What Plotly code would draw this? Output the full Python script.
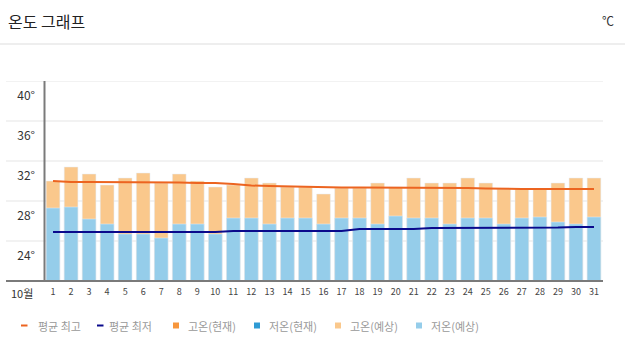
import plotly.graph_objects as go

days = list(range(1, 32))
high_fc = [30.0, 31.4, 30.7, 29.6, 30.3, 30.8, 29.8, 30.7, 30.0, 29.4, 29.6, 30.3, 29.8, 29.4, 29.4, 28.7,
           29.3, 29.3, 29.8, 29.4, 30.3, 29.8, 29.8, 30.3, 29.8, 29.2, 29.2, 29.2, 29.8, 30.3, 30.3]
low_fc = [27.3, 27.4, 26.2, 25.7, 24.7, 24.7, 24.3, 25.7, 25.7, 24.7, 26.3, 26.3, 25.7, 26.3, 26.3, 25.7,
          26.3, 26.3, 25.7, 26.5, 26.3, 26.3, 25.7, 26.3, 26.3, 25.7, 26.3, 26.4, 25.9, 25.7, 26.4]
avg_high = [30.0, 29.9, 29.9, 29.9, 29.9, 29.9, 29.9, 29.85, 29.8, 29.8, 29.7, 29.55, 29.5, 29.45, 29.4, 29.35,
            29.35, 29.35, 29.35, 29.3, 29.3, 29.3, 29.3, 29.3, 29.25, 29.2, 29.2, 29.2, 29.2, 29.2, 29.2]
avg_low = [24.9, 24.9, 24.9, 24.9, 24.9, 24.9, 24.9, 24.9, 24.9, 24.9, 25.0, 25.0, 25.0, 25.0, 25.0, 25.0,
           25.0, 25.2, 25.2, 25.2, 25.2, 25.3, 25.3, 25.3, 25.3, 25.3, 25.3, 25.3, 25.35, 25.4, 25.4]
y_ticks = [24, 28, 32, 36, 40]
y_labels = ["24°", "28°", "32°", "36°", "40°"]
legend_names = ["평균 최고", "평균 최저", "고온(현재)", "저온(현재)", "고온(예상)", "저온(예상)"]

C_AVG_HIGH = "#ec6420"
C_AVG_LOW = "#0a0a8c"
C_HIGH_NOW = "#f7963c"
C_LOW_NOW = "#2f9bd4"
C_HIGH_FC = "#fac88c"
C_LOW_FC = "#95cdea"

FONT = "Noto Sans CJK KR"
W, H = 625, 353
ML, MR, MT, MB = 44, 22, 81, 72
PW = W - ML - MR
PH = H - MT - MB

fig = go.Figure()
fig.add_trace(go.Bar(x=days, y=high_fc, marker_color=C_HIGH_FC, width=0.76, name=legend_names[4]))
fig.add_trace(go.Bar(x=days, y=low_fc, marker_color=C_LOW_FC, width=0.76, name=legend_names[5]))
fig.add_trace(go.Scatter(x=days, y=avg_high, mode="lines", line=dict(color=C_AVG_HIGH, width=2),
                         name=legend_names[0]))
fig.add_trace(go.Scatter(x=days, y=avg_low, mode="lines", line=dict(color=C_AVG_LOW, width=2),
                         name=legend_names[1]))


def px_x(p):
    return (p - ML) / PW


def px_y(p):
    return (H - MB - p) / PH


shapes = []
# gridlines extending left of plot
for v in y_ticks:
    shapes.append(dict(type="line", xref="paper", yref="y", x0=px_x(6), x1=px_x(603), y0=v, y1=v,
                       line=dict(color="#eeeeee", width=1.5), layer="below"))
# baseline
shapes.append(dict(type="line", xref="paper", yref="paper", x0=px_x(6), x1=px_x(603), y0=0, y1=0,
                   line=dict(color="#7a7a7a", width=2)))
# vertical axis
shapes.append(dict(type="line", xref="paper", yref="paper", x0=px_x(44.5), x1=px_x(44.5), y0=0, y1=1,
                   line=dict(color="#7a7a7a", width=2)))
# header separator
shapes.append(dict(type="line", xref="paper", yref="paper", x0=px_x(0), x1=px_x(625), y0=px_y(44), y1=px_y(44),
                   line=dict(color="#dddddd", width=1)))

annotations = [
    dict(text="온도 그래프", x=px_x(6), y=px_y(21), xref="paper", yref="paper", xanchor="left", yanchor="middle",
         showarrow=False, font=dict(family=FONT, size=16, color="#222222")),
    dict(text="℃", x=px_x(616), y=px_y(21), xref="paper", yref="paper", xanchor="right", yanchor="middle",
         showarrow=False, font=dict(family=FONT, size=12, color="#333333")),
    dict(text="10월", x=px_x(9), y=px_y(293), xref="paper", yref="paper", xanchor="left", yanchor="middle",
         showarrow=False, font=dict(family=FONT, size=11, color="#333333")),
]

# legend (manual)
LY = 325.5
leg = [
    ("line", C_AVG_HIGH, 21, 36),
    ("line", C_AVG_LOW, 97, 107),
    ("sq", C_HIGH_NOW, 173, 186),
    ("sq", C_LOW_NOW, 254, 267),
    ("sq", C_HIGH_FC, 335, 348),
    ("sq", C_LOW_FC, 416, 429),
]
for (kind, col, sx, tx), name in zip(leg, legend_names):
    if kind == "line":
        shapes.append(dict(type="rect", xref="paper", yref="paper", x0=px_x(sx), x1=px_x(sx + 6.5),
                           y0=px_y(LY + 1), y1=px_y(LY - 1), fillcolor=col, line=dict(width=0)))
    else:
        shapes.append(dict(type="rect", xref="paper", yref="paper", x0=px_x(sx), x1=px_x(sx + 6),
                           y0=px_y(LY + 3), y1=px_y(LY - 3), fillcolor=col, line=dict(width=0)))
    annotations.append(dict(text=name, x=px_x(tx), y=px_y(LY), xref="paper", yref="paper", xanchor="left",
                            yanchor="middle", showarrow=False,
                            font=dict(family=FONT, size=11, color="#999999")))

fig.update_layout(
    width=W, height=H,
    margin=dict(l=ML, r=MR, t=MT, b=MB, pad=0),
    paper_bgcolor="white", plot_bgcolor="white",
    barmode="overlay",
    showlegend=False,
    shapes=shapes,
    annotations=annotations,
    font=dict(family=FONT),
    xaxis=dict(range=[0.5, 31.5], tickmode="array", tickvals=days, ticktext=[str(d) for d in days],
               showgrid=False, zeroline=False, showline=False, ticks="",
               tickfont=dict(family=FONT, size=9, color="#444444"), ticklabelstandoff=4, fixedrange=True),
    yaxis=dict(range=[20, 40], tickmode="array", tickvals=y_ticks, ticktext=y_labels,
               showgrid=False, zeroline=False, showline=False, ticks="",
               tickfont=dict(family=FONT, size=12, color="#333333"), ticklabelshift=15,
               ticklabelstandoff=8, fixedrange=True),
)

fig.write_html("out.html")
